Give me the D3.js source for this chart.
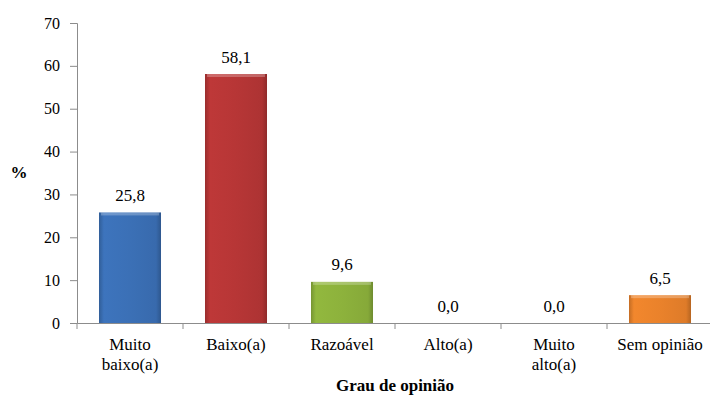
<!DOCTYPE html>
<html><head><meta charset="utf-8">
<script src="https://cdn.jsdelivr.net/npm/d3@7"></script>
</head><body style="margin:0;background:#fff">
<svg id="c" width="710" height="398" style="display:block"></svg>
<script>
const categories = [["Muito","baixo(a)"],["Baixo(a)"],["Razoável"],["Alto(a)"],["Muito","alto(a)"],["Sem opinião"]];
const values = [25.8, 58.1, 9.6, 0.0, 0.0, 6.5];
const colors = ["#3b70b6","#b73636","#8db23c","#3b70b6","#3b70b6","#ea822b"];
const yTicks = [0,10,20,30,40,50,60,70];
const yLabel = "%";
const xLabel = "Grau de opinião";

const FONT = '"Times New Roman", Tinos, "Liberation Serif", "DejaVu Serif", serif';
const data = values.map((v,i)=>({i, v, c: colors[i], cat: categories[i]}));
const svg = d3.select("#c").attr("font-family", FONT);
const m = {l:77, r:-3, t:23, b:75};
const W = 710, H = 398;
const x = d3.scaleBand().domain(d3.range(values.length)).range([m.l, W - m.r]).paddingInner(0.415).paddingOuter(0.2075);
const y = d3.scaleLinear().domain([0,70]).range([H - m.b, m.t]);
const fmt = v => d3.format(".1f")(v).replace(".", ",");
const serif = s => s.attr("font-family", FONT).style("font-family", FONT);

const defs = svg.append("defs");
data.forEach(d=>{
  const g = defs.append("linearGradient").attr("id","g"+d.i).attr("x1","0").attr("x2","1").attr("y1","0").attr("y2","0");
  const base = d3.color(d.c);
  g.append("stop").attr("offset","0%").attr("stop-color", base.darker(0.5));
  g.append("stop").attr("offset","8%").attr("stop-color", base.brighter(0.1));
  g.append("stop").attr("offset","50%").attr("stop-color", base);
  g.append("stop").attr("offset","92%").attr("stop-color", base.darker(0.15));
  g.append("stop").attr("offset","100%").attr("stop-color", base.darker(0.7));
});

// axes
const yAxis = svg.append("g").attr("transform",`translate(${m.l},0)`)
  .call(d3.axisLeft(y).tickValues(yTicks).tickSize(7).tickPadding(10));
const xAxis = svg.append("g").attr("transform",`translate(0,${y(0)})`)
  .call(d3.axisBottom(x).tickValues([]).tickSizeOuter(0));
[yAxis,xAxis].forEach(a=>{
  a.call(serif);
  a.select(".domain").attr("stroke","#8c8c8c");
  a.selectAll(".tick line").attr("stroke","#8c8c8c");
});
yAxis.selectAll(".tick text").call(serif).attr("font-size",16).attr("fill","#000");

// x ticks between categories
const bounds = d3.range(values.length+1).map(i => m.l + i*x.step());
svg.append("g").selectAll("line").data(bounds).join("line")
  .attr("x1",d=>d).attr("x2",d=>d).attr("y1",y(0)).attr("y2",y(0)+6).attr("stroke","#8c8c8c");

// bars
const pos = data.filter(d=>d.v>0);
svg.append("g").selectAll("rect").data(pos).join("rect")
  .attr("x",d=>x(d.i)).attr("width",x.bandwidth())
  .attr("y",d=>y(d.v)).attr("height",d=>y(0)-y(d.v))
  .attr("fill",d=>`url(#g${d.i})`);
svg.append("g").selectAll("rect").data(pos).join("rect")
  .attr("x",d=>x(d.i)+2).attr("width",x.bandwidth()-4)
  .attr("y",d=>y(d.v)).attr("height",3)
  .attr("fill","#fff").attr("opacity",0.25);

// value labels
svg.append("g").selectAll("text").data(data).join("text")
  .attr("x",d=>x(d.i)+x.bandwidth()/2).attr("y",d=>y(d.v)-11.5)
  .attr("text-anchor","middle").call(serif).attr("font-size",17)
  .text(d=>fmt(d.v));

// category labels
const cl = svg.append("g").selectAll("text").data(data).join("text")
  .attr("x",d=>x(d.i)+x.bandwidth()/2).attr("y",y(0)+27)
  .attr("text-anchor","middle").call(serif).attr("font-size",17);
cl.selectAll("tspan").data(d=>d.cat.map(t=>({t, x:x(d.i)+x.bandwidth()/2}))).join("tspan")
  .attr("x",d=>d.x).attr("dy",(d,i)=>i? 20:0).text(d=>d.t);

// axis titles
svg.append("text").attr("x",19).attr("y",178).attr("text-anchor","middle")
  .call(serif).attr("font-weight","bold").attr("font-size",17).text(yLabel);
svg.append("text").attr("x",(m.l+W-m.r)/2).attr("y",391).attr("text-anchor","middle")
  .call(serif).attr("font-weight","bold").attr("font-size",17).text(xLabel);
</script>
</body></html>
